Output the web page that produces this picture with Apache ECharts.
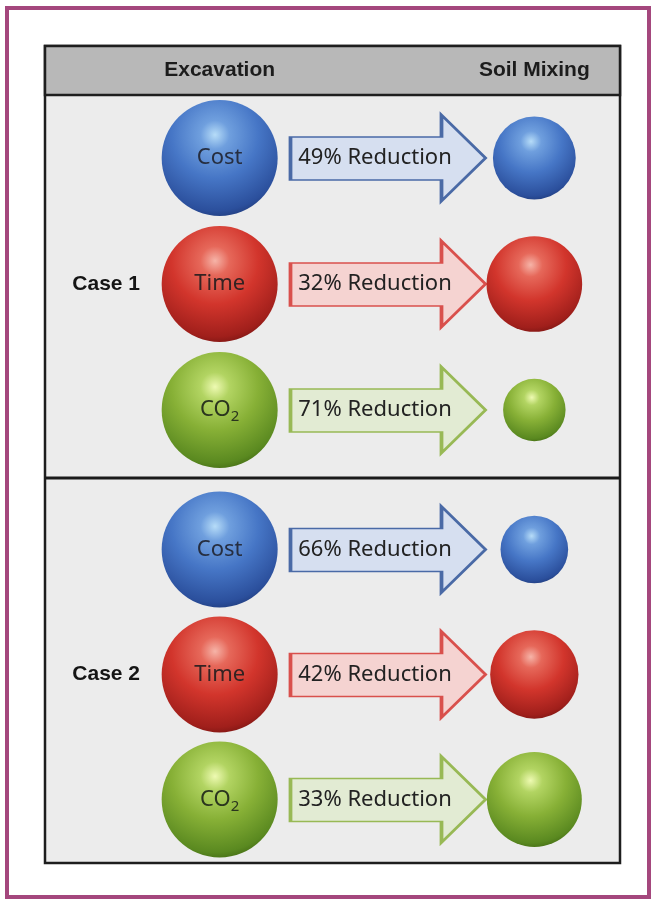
<!DOCTYPE html>
<html><head><meta charset="utf-8">
<script src="https://cdn.jsdelivr.net/npm/echarts@6/dist/echarts.min.js"></script>
<style>html,body{margin:0;padding:0;background:#fff}#c{width:655px;height:901px}</style>
</head><body><div id="c"></div>
<script>
// ---- data ----
const columns = ['Excavation', 'Reduction', 'Soil Mixing'];
const metrics = ['Cost', 'Time', 'CO2'];
const cases = ['Case 1', 'Case 2'];
const case1Reduction = [49, 32, 71];   // % reduction, excavation -> soil mixing
const case2Reduction = [66, 42, 33];
const reductions = [case1Reduction, case2Reduction];

// ---- styles ----
const BIG = 116;
const styles = {
  Cost: { stops: ['#b6dcf8', '#6f9fde', '#4676c6', '#2b4f9c', '#1a3068'], fill: '#d6dff0', stroke: '#4a6aa6', text: '#262e40' },
  Time: { stops: ['#f6b4a8', '#e6685a', '#d2352c', '#a01f1b', '#65100e'], fill: '#f5d3d1', stroke: '#d9504c', text: '#352222' },
  CO2:  { stops: ['#eefab2', '#b2d462', '#87b036', '#5a8920', '#365a0e'], fill: '#e2ebd3', stroke: '#98b955', text: '#2a351e' }
};
function sphere(m) {
  const s = styles[m].stops;
  return { type: 'radial', x: 0.46, y: 0.3, r: 0.78, colorStops: [
    { offset: 0, color: s[0] }, { offset: 0.16, color: s[1] }, { offset: 0.48, color: s[2] },
    { offset: 0.84, color: s[3] }, { offset: 1, color: s[4] } ] };
}
const arrowPath = 'path://M0,22 L151,22 L151,0 L195,43 L151,86 L151,65 L0,65 Z';
const sphereLabel = (m) => ({
  show: true, position: 'inside',
  formatter: m === 'CO2' ? '{m|CO}{s|2}' : m,
  color: styles[m].text, fontSize: 22, fontFamily: 'Noto Sans',
  rich: { m: { fontSize: 22, fontFamily: 'Noto Sans', color: styles[m].text },
          s: { fontSize: 15, fontFamily: 'Noto Sans', color: styles[m].text, padding: [14, 0, 0, 0] } }
});

const grids = [{ left: 141, width: 472, top: 95, height: 378 }, { left: 141, width: 472, top: 487, height: 375 }];
const xAxes = [], yAxes = [], series = [];
cases.forEach((c, ci) => {
  xAxes.push({
    gridIndex: ci, type: 'category', data: columns, position: 'top', show: ci === 0,
    axisLine: { show: false }, axisTick: { show: false }, splitLine: { show: false },
    axisLabel: { formatter: v => v === 'Reduction' ? '' : v, fontWeight: 'bold', fontSize: 21,
      fontFamily: 'Liberation Sans', color: '#1c1c1c', margin: 25, verticalAlign: 'middle', interval: 0 }
  });
  yAxes.push({
    gridIndex: ci, type: 'category', data: metrics, inverse: true,
    axisLine: { show: false }, axisTick: { show: false }, axisLabel: { show: false }, splitLine: { show: false },
    name: c, nameLocation: 'middle', nameRotate: 0, nameGap: 1,
    nameTextStyle: { fontWeight: 'bold', fontSize: 21, fontFamily: 'Liberation Sans', color: '#151515', padding: [6, 0, 0, 0] }
  });
  series.push({
    type: 'scatter', xAxisIndex: ci, yAxisIndex: ci, symbolSize: BIG, silent: true, z: 3,
    data: metrics.map(m => ({ value: ['Excavation', m, 100], itemStyle: { color: sphere(m), opacity: 1 }, label: sphereLabel(m) }))
  });
  series.push({
    type: 'scatter', xAxisIndex: ci, yAxisIndex: ci, symbol: arrowPath, symbolSize: [195, 86],
    symbolOffset: [11, 0], silent: true, z: 3,
    data: metrics.map((m, i) => ({ value: ['Reduction', m, reductions[ci][i]],
      itemStyle: { color: styles[m].fill, borderColor: styles[m].stroke, borderWidth: 2.5, opacity: 1 } })),
    label: { show: true, position: 'inside', offset: [-13, 0], formatter: p => p.value[2] + '% Reduction',
      color: '#222222', fontSize: 22, fontFamily: 'Noto Sans' }
  });
  series.push({
    type: 'scatter', xAxisIndex: ci, yAxisIndex: ci, silent: true, z: 3,
    symbolSize: v => BIG * Math.sqrt(v[2] / 100),
    data: metrics.map((m, i) => ({ value: ['Soil Mixing', m, 100 - reductions[ci][i]], itemStyle: { color: sphere(m), opacity: 1 } }))
  });
});

const chart = echarts.init(document.getElementById('c'), null, { renderer: 'canvas' });
chart.setOption({
  backgroundColor: '#ffffff',
  animation: false,
  graphic: [
    { type: 'rect', z: 0, shape: { x: 7, y: 8, width: 642, height: 889 }, style: { fill: '#ffffff', stroke: '#a4477d', lineWidth: 4 } },
    { type: 'rect', z: 0, shape: { x: 45, y: 46, width: 575, height: 817 }, style: { fill: '#ececec', stroke: '#1e1e1e', lineWidth: 2.5 } },
    { type: 'rect', z: 0, shape: { x: 45, y: 46, width: 575, height: 49 }, style: { fill: '#b8b8b8', stroke: '#1e1e1e', lineWidth: 2.5 } },
    { type: 'line', z: 0, shape: { x1: 45, y1: 478, x2: 620, y2: 478 }, style: { stroke: '#1a1a1a', lineWidth: 3 } }
  ],
  grid: grids,
  xAxis: xAxes,
  yAxis: yAxes,
  series: series
});
</script></body></html>
